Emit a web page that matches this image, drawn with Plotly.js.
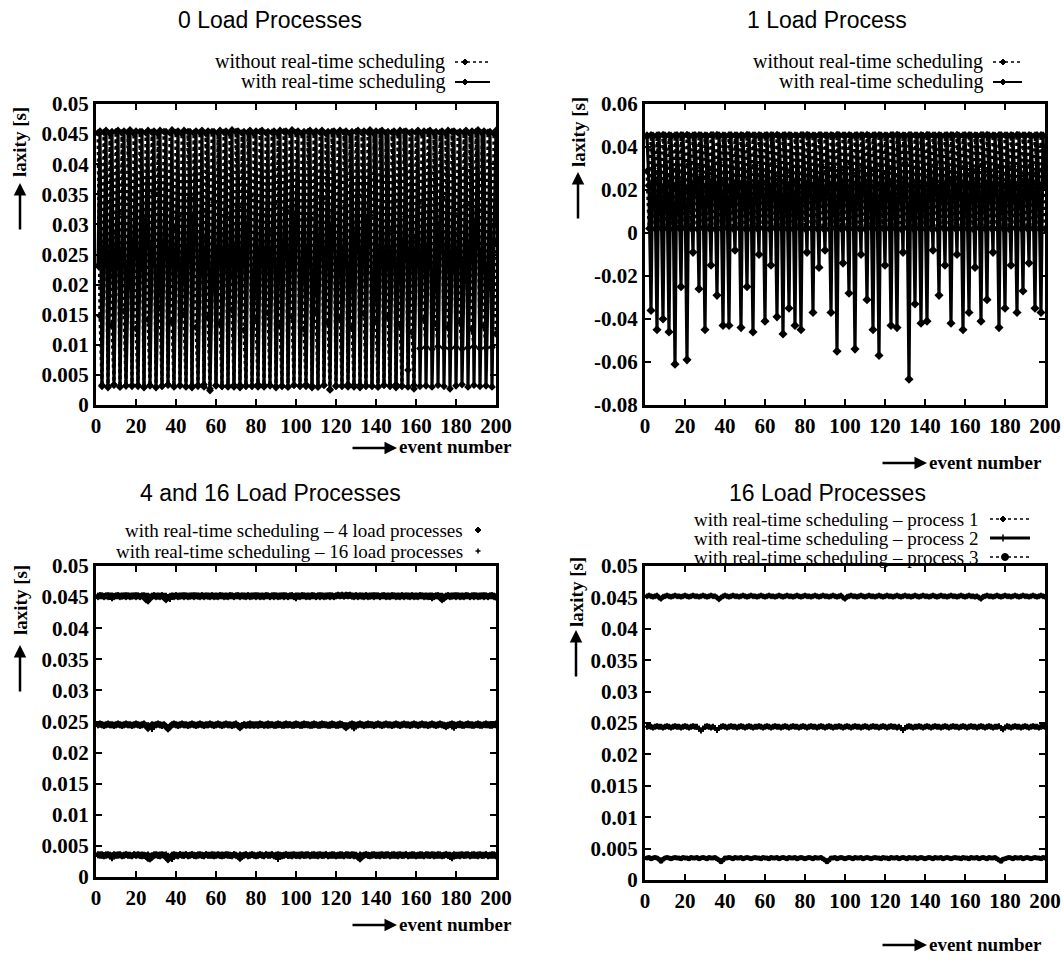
<!DOCTYPE html>
<html><head><meta charset="utf-8">
<script src="https://cdn.plot.ly/plotly-3.0.1.min.js"></script>
<style>html,body{margin:0;padding:0;background:#fff}#chart{width:1064px;height:965px}</style>
</head><body><div id="chart"></div>
<script>
// ---------------- DATA ----------------
const panelTitles = ["0 Load Processes", "1 Load Process", "4 and 16 Load Processes", "16 Load Processes"];
const legendTop = ["without real-time scheduling", "with real-time scheduling"];
const legendMix = ["with real-time scheduling \u2013 4 load processes", "with real-time scheduling \u2013 16 load processes"];
const legendProc = ["with real-time scheduling \u2013 process 1", "with real-time scheduling \u2013 process 2", "with real-time scheduling \u2013 process 3"];
const yAxisTitle = "laxity [s]";
const xAxisTitle = "event number";
const xTickVals = [0, 20, 40, 60, 80, 100, 120, 140, 160, 180, 200];
const xTickText = ["0", "20", "40", "60", "80", "100", "120", "140", "160", "180", "200"];
const yTickVals05 = [0, 0.005, 0.01, 0.015, 0.02, 0.025, 0.03, 0.035, 0.04, 0.045, 0.05];
const yTickText05 = ["0", "0.005", "0.01", "0.015", "0.02", "0.025", "0.03", "0.035", "0.04", "0.045", "0.05"];
const yTickVals1 = [-0.08, -0.06, -0.04, -0.02, 0, 0.02, 0.04, 0.06];
const yTickText1 = ["-0.08", "-0.06", "-0.04", "-0.02", "0", "0.02", "0.04", "0.06"];

// 0 load processes
const load0_without = [0.0452,0.0148,0.0031,0.0453,0.0336,0.0029,0.0451,0.0132,0.0033,0.0454,
0.0318,0.0030,0.0452,0.0156,0.0032,0.0453,0.0341,0.0031,0.0451,0.0127,
0.0033,0.0454,0.0309,0.0030,0.0452,0.0142,0.0032,0.0453,0.0352,0.0029,
0.0451,0.0161,0.0031,0.0454,0.0326,0.0033,0.0452,0.0138,0.0030,0.0453,
0.0314,0.0032,0.0451,0.0150,0.0031,0.0454,0.0344,0.0029,0.0452,0.0129,
0.0033,0.0453,0.0321,0.0030,0.0451,0.0145,0.0024,0.0454,0.0337,0.0032,
0.0452,0.0135,0.0031,0.0453,0.0312,0.0030,0.0451,0.0158,0.0033,0.0454,
0.0329,0.0029,0.0452,0.0124,0.0032,0.0453,0.0347,0.0031,0.0451,0.0141,
0.0030,0.0454,0.0316,0.0033,0.0452,0.0153,0.0032,0.0453,0.0334,0.0029,
0.0451,0.0131,0.0031,0.0454,0.0323,0.0030,0.0452,0.0147,0.0033,0.0453,
0.0339,0.0032,0.0451,0.0126,0.0031,0.0454,0.0311,0.0029,0.0452,0.0155,
0.0030,0.0453,0.0342,0.0033,0.0451,0.0137,0.0025,0.0454,0.0319,0.0032,
0.0452,0.0144,0.0031,0.0453,0.0331,0.0030,0.0451,0.0128,0.0033,0.0454,
0.0349,0.0029,0.0452,0.0152,0.0032,0.0453,0.0315,0.0031,0.0451,0.0139,
0.0030,0.0454,0.0327,0.0033,0.0452,0.0146,0.0032,0.0453,0.0338,0.0029,
0.0451,0.0133,0.0031,0.0454,0.0313,0.0058,0.0452,0.0121,0.0027,0.0453,
0.0335,0.0094,0.0451,0.0142,0.0096,0.0454,0.0322,0.0093,0.0452,0.0135,
0.0097,0.0453,0.0345,0.0095,0.0451,0.0129,0.0094,0.0454,0.0318,0.0096,
0.0452,0.0138,0.0093,0.0453,0.0332,0.0095,0.0451,0.0126,0.0097,0.0454,
0.0324,0.0094,0.0452,0.0131,0.0095,0.0453,0.0341,0.0096,0.0451,0.0118];
const load0_with = [0.0231,0.0455,0.0033,0.0262,0.0456,0.0031,0.0214,0.0454,0.0034,0.0287,
0.0456,0.0030,0.0243,0.0455,0.0032,0.0196,0.0457,0.0033,0.0271,0.0455,
0.0031,0.0228,0.0454,0.0029,0.0305,0.0456,0.0033,0.0252,0.0455,0.0030,
0.0183,0.0456,0.0032,0.0266,0.0454,0.0034,0.0239,0.0457,0.0031,0.0294,
0.0455,0.0033,0.0207,0.0456,0.0030,0.0258,0.0454,0.0032,0.0312,0.0455,
0.0031,0.0224,0.0456,0.0034,0.0275,0.0455,0.0027,0.0191,0.0454,0.0033,
0.0248,0.0456,0.0031,0.0283,0.0455,0.0032,0.0216,0.0457,0.0030,0.0264,
0.0455,0.0033,0.0236,0.0454,0.0031,0.0301,0.0456,0.0032,0.0178,0.0455,
0.0034,0.0255,0.0456,0.0030,0.0229,0.0454,0.0033,0.0289,0.0455,0.0031,
0.0202,0.0456,0.0032,0.0268,0.0455,0.0030,0.0244,0.0457,0.0033,0.0317,
0.0455,0.0031,0.0211,0.0454,0.0034,0.0259,0.0456,0.0032,0.0186,0.0455,
0.0030,0.0277,0.0456,0.0033,0.0233,0.0454,0.0026,0.0296,0.0455,0.0031,
0.0219,0.0456,0.0032,0.0262,0.0455,0.0034,0.0197,0.0454,0.0030,0.0285,
0.0456,0.0033,0.0241,0.0455,0.0031,0.0308,0.0457,0.0032,0.0174,0.0455,
0.0030,0.0253,0.0456,0.0033,0.0226,0.0454,0.0031,0.0291,0.0455,0.0034,
0.0205,0.0456,0.0032,0.0267,0.0455,0.0030,0.0238,0.0454,0.0033,0.0279,
0.0456,0.0031,0.0213,0.0455,0.0032,0.0261,0.0456,0.0030,0.0189,0.0454,
0.0033,0.0299,0.0455,0.0031,0.0247,0.0456,0.0027,0.0222,0.0455,0.0032,
0.0284,0.0454,0.0034,0.0208,0.0456,0.0030,0.0256,0.0455,0.0033,0.0302,
0.0457,0.0031,0.0235,0.0455,0.0032,0.0193,0.0454,0.0030,0.0272,0.0456];

// 1 load process
const load1_without = [0.0288,0.0021,0.0456,0.0301,0.0019,0.0455,0.0276,0.0022,0.0457,0.0312,0.0020,0.0456,
0.0265,0.0018,0.0455,0.0297,0.0023,0.0456,0.0283,0.0020,0.0457,0.0319,0.0021,0.0455,
0.0271,0.0019,0.0456,0.0305,0.0022,0.0455,0.0262,0.0020,0.0456,0.0293,0.0018,0.0457,
0.0327,0.0021,0.0455,0.0279,0.0023,0.0456,0.0308,0.0019,0.0455,0.0268,0.0022,0.0456,
0.0299,0.0020,0.0457,0.0285,0.0018,0.0455,0.0314,0.0021,0.0456,0.0273,0.0023,0.0455,
0.0291,0.0019,0.0456,0.0323,0.0022,0.0457,0.0266,0.0020,0.0455,0.0302,0.0021,0.0456,
0.0281,0.0018,0.0455,0.0310,0.0023,0.0456,0.0274,0.0019,0.0457,0.0296,0.0022,0.0455,
0.0263,0.0020,0.0456,0.0317,0.0021,0.0455,0.0287,0.0018,0.0456,0.0304,0.0023,0.0457,
0.0270,0.0019,0.0455,0.0294,0.0022,0.0456,0.0321,0.0020,0.0455,0.0278,0.0021,0.0456,
0.0306,0.0018,0.0457,0.0267,0.0023,0.0455,0.0289,0.0019,0.0456,0.0313,0.0022,0.0455,
0.0275,0.0020,0.0456,0.0298,0.0021,0.0457,0.0264,0.0018,0.0455,0.0325,0.0023,0.0456,
0.0284,0.0019,0.0455,0.0307,0.0022,0.0456,0.0272,0.0020,0.0457,0.0292,0.0021,0.0455,
0.0316,0.0018,0.0456,0.0269,0.0023,0.0455,0.0300,0.0019,0.0456,0.0282,0.0022,0.0457,
0.0261,0.0020,0.0455,0.0311,0.0021,0.0456,0.0277,0.0018,0.0455,0.0295,0.0023,0.0456,
0.0320,0.0019,0.0457,0.0286,0.0022,0.0455,0.0268,0.0020,0.0456,0.0303,0.0021,0.0455,
0.0273,0.0018,0.0456,0.0309,0.0023,0.0457,0.0290,0.0019,0.0455,0.0266,0.0022,0.0456,
0.0315,0.0020,0.0455,0.0280,0.0021,0.0456,0.0297,0.0019];
const load1_with = [0.0452,0.0221,-0.036,0.0451,0.0236,-0.045,0.0453,0.0214,-0.040,0.0452,0.0228,-0.046,
0.0451,0.0219,-0.061,0.0453,0.0233,-0.025,0.0452,0.0210,-0.059,0.0451,0.0225,-0.009,
0.0453,0.0238,-0.026,0.0452,0.0216,-0.045,0.0451,0.0229,-0.015,0.0453,0.0222,-0.029,
0.0452,0.0235,-0.043,0.0451,0.0213,-0.043,0.0453,0.0227,-0.008,0.0452,0.0220,-0.044,
0.0451,0.0231,-0.025,0.0453,0.0217,-0.046,0.0452,0.0226,-0.010,0.0451,0.0234,-0.041,
0.0453,0.0212,-0.015,0.0452,0.0224,-0.039,0.0451,0.0237,-0.047,0.0453,0.0218,-0.035,
0.0452,0.0230,-0.043,0.0451,0.0215,-0.045,0.0453,0.0227,-0.009,0.0452,0.0221,-0.037,
0.0451,0.0233,-0.016,0.0453,0.0211,-0.008,0.0452,0.0226,-0.037,0.0451,0.0219,-0.055,
0.0453,0.0236,-0.014,0.0452,0.0214,-0.028,0.0451,0.0229,-0.054,0.0453,0.0222,-0.010,
0.0452,0.0232,-0.031,0.0451,0.0216,-0.045,0.0453,0.0225,-0.057,0.0452,0.0219,-0.015,
0.0451,0.0235,-0.043,0.0453,0.0212,-0.044,0.0452,0.0228,-0.009,0.0451,0.0221,-0.068,
0.0453,0.0230,-0.033,0.0452,0.0217,-0.042,0.0451,0.0226,-0.041,0.0453,0.0234,-0.008,
0.0452,0.0213,-0.029,0.0451,0.0224,-0.015,0.0453,0.0237,-0.042,0.0452,0.0218,-0.010,
0.0451,0.0231,-0.045,0.0453,0.0215,-0.037,0.0452,0.0227,-0.016,0.0451,0.0220,-0.041,
0.0453,0.0233,-0.031,0.0452,0.0211,-0.009,0.0451,0.0226,-0.044,0.0453,0.0219,-0.035,
0.0452,0.0236,-0.015,0.0451,0.0214,-0.037,0.0453,0.0229,-0.027,0.0452,0.0222,-0.014,
0.0451,0.0232,-0.035,0.0453,0.0216,-0.037,0.0452,0.0225];

// 4 load processes (three deadline levels per event)
const load4_p1 = [0.0451,0.0452,0.0452,0.0451,0.0452,0.0451,0.0452,0.0452,0.0451,0.0452,
0.0452,0.0451,0.0452,0.0452,0.0451,0.0452,0.0451,0.0452,0.0452,0.0451,
0.0452,0.0451,0.0452,0.0450,0.0446,0.0444,0.0448,0.0451,0.0452,0.0451,
0.0452,0.0451,0.0452,0.0449,0.0446,0.0449,0.0451,0.0452,0.0451,0.0452,
0.0451,0.0452,0.0452,0.0451,0.0452,0.0451,0.0452,0.0452,0.0451,0.0452,
0.0452,0.0451,0.0452,0.0451,0.0452,0.0452,0.0451,0.0452,0.0451,0.0452,
0.0451,0.0452,0.0452,0.0451,0.0452,0.0451,0.0452,0.0452,0.0451,0.0452,
0.0452,0.0451,0.0452,0.0452,0.0451,0.0452,0.0451,0.0452,0.0452,0.0451,
0.0452,0.0451,0.0452,0.0451,0.0452,0.0452,0.0451,0.0452,0.0451,0.0452,
0.0451,0.0452,0.0452,0.0451,0.0452,0.0451,0.0452,0.0452,0.0451,0.0452,
0.0452,0.0451,0.0452,0.0452,0.0451,0.0452,0.0451,0.0452,0.0452,0.0451,
0.0452,0.0451,0.0452,0.0451,0.0452,0.0452,0.0451,0.0452,0.0451,0.0452,
0.0453,0.0452,0.0453,0.0452,0.0453,0.0452,0.0453,0.0452,0.0451,0.0452,
0.0451,0.0452,0.0452,0.0451,0.0452,0.0451,0.0452,0.0452,0.0451,0.0452,
0.0452,0.0451,0.0452,0.0452,0.0451,0.0452,0.0451,0.0452,0.0452,0.0451,
0.0452,0.0451,0.0452,0.0451,0.0452,0.0452,0.0451,0.0452,0.0451,0.0452,
0.0451,0.0452,0.0452,0.0451,0.0452,0.0451,0.0452,0.0452,0.0451,0.0452,
0.0452,0.0449,0.0446,0.0448,0.0451,0.0452,0.0451,0.0452,0.0452,0.0451,
0.0452,0.0451,0.0452,0.0451,0.0452,0.0452,0.0451,0.0452,0.0451,0.0452,
0.0451,0.0452,0.0452,0.0451,0.0452,0.0451,0.0452,0.0452,0.0451,0.0450];
const load4_p2 = [0.0245,0.0246,0.0245,0.0244,0.0245,0.0246,0.0245,0.0245,0.0244,0.0245,
0.0246,0.0245,0.0244,0.0245,0.0246,0.0245,0.0245,0.0244,0.0245,0.0246,
0.0245,0.0244,0.0245,0.0246,0.0243,0.0239,0.0242,0.0245,0.0244,0.0245,
0.0246,0.0245,0.0244,0.0245,0.0242,0.0238,0.0242,0.0245,0.0246,0.0245,
0.0244,0.0245,0.0246,0.0245,0.0245,0.0244,0.0245,0.0246,0.0245,0.0244,
0.0245,0.0246,0.0245,0.0244,0.0245,0.0245,0.0246,0.0245,0.0244,0.0245,
0.0246,0.0245,0.0244,0.0245,0.0246,0.0245,0.0245,0.0244,0.0245,0.0246,
0.0243,0.0240,0.0243,0.0245,0.0244,0.0245,0.0246,0.0245,0.0244,0.0245,
0.0245,0.0246,0.0245,0.0244,0.0245,0.0246,0.0245,0.0245,0.0244,0.0245,
0.0246,0.0245,0.0244,0.0245,0.0246,0.0245,0.0245,0.0244,0.0245,0.0246,
0.0245,0.0244,0.0245,0.0246,0.0245,0.0245,0.0244,0.0245,0.0246,0.0245,
0.0244,0.0245,0.0246,0.0245,0.0245,0.0244,0.0245,0.0246,0.0245,0.0244,
0.0245,0.0246,0.0245,0.0243,0.0240,0.0243,0.0245,0.0246,0.0245,0.0244,
0.0245,0.0246,0.0245,0.0244,0.0245,0.0246,0.0245,0.0245,0.0244,0.0245,
0.0246,0.0245,0.0244,0.0245,0.0246,0.0245,0.0245,0.0244,0.0245,0.0246,
0.0245,0.0244,0.0245,0.0246,0.0245,0.0245,0.0244,0.0245,0.0246,0.0245,
0.0244,0.0245,0.0246,0.0245,0.0245,0.0244,0.0245,0.0246,0.0245,0.0244,
0.0245,0.0246,0.0245,0.0244,0.0242,0.0244,0.0245,0.0246,0.0245,0.0244,
0.0245,0.0246,0.0245,0.0244,0.0245,0.0246,0.0245,0.0245,0.0244,0.0245,
0.0246,0.0245,0.0244,0.0245,0.0246,0.0245,0.0245,0.0244,0.0245,0.0246];
const load4_p3 = [0.0036,0.0035,0.0036,0.0034,0.0035,0.0036,0.0035,0.0034,0.0036,0.0035,
0.0035,0.0036,0.0034,0.0035,0.0036,0.0035,0.0035,0.0034,0.0036,0.0035,
0.0036,0.0035,0.0034,0.0035,0.0033,0.0030,0.0029,0.0032,0.0035,0.0036,
0.0035,0.0034,0.0036,0.0035,0.0032,0.0028,0.0031,0.0035,0.0036,0.0035,
0.0034,0.0036,0.0035,0.0035,0.0036,0.0034,0.0035,0.0036,0.0035,0.0034,
0.0035,0.0036,0.0035,0.0034,0.0036,0.0035,0.0035,0.0036,0.0034,0.0035,
0.0036,0.0035,0.0034,0.0035,0.0036,0.0035,0.0035,0.0034,0.0036,0.0035,
0.0033,0.0030,0.0033,0.0035,0.0036,0.0034,0.0035,0.0036,0.0035,0.0034,
0.0035,0.0036,0.0035,0.0034,0.0036,0.0035,0.0035,0.0036,0.0034,0.0035,
0.0036,0.0035,0.0034,0.0035,0.0036,0.0035,0.0035,0.0034,0.0036,0.0035,
0.0035,0.0034,0.0036,0.0035,0.0035,0.0036,0.0034,0.0035,0.0036,0.0035,
0.0034,0.0036,0.0035,0.0035,0.0036,0.0034,0.0035,0.0036,0.0035,0.0034,
0.0035,0.0036,0.0035,0.0034,0.0036,0.0035,0.0035,0.0036,0.0034,0.0035,
0.0032,0.0029,0.0033,0.0035,0.0036,0.0035,0.0034,0.0035,0.0036,0.0035,
0.0035,0.0034,0.0036,0.0035,0.0035,0.0036,0.0034,0.0035,0.0036,0.0035,
0.0034,0.0036,0.0035,0.0035,0.0036,0.0034,0.0035,0.0036,0.0035,0.0034,
0.0035,0.0036,0.0035,0.0034,0.0036,0.0035,0.0035,0.0036,0.0034,0.0035,
0.0036,0.0035,0.0034,0.0035,0.0036,0.0035,0.0035,0.0034,0.0036,0.0035,
0.0035,0.0034,0.0036,0.0035,0.0035,0.0036,0.0034,0.0035,0.0036,0.0035,
0.0034,0.0036,0.0035,0.0035,0.0036,0.0034,0.0035,0.0036,0.0035,0.0034];

// 16 load processes, processes 1..3
const load16_p1 = [0.0452,0.0453,0.0452,0.0451,0.0452,0.0453,0.0450,0.0448,0.0451,0.0452,
0.0453,0.0452,0.0451,0.0452,0.0453,0.0452,0.0452,0.0451,0.0452,0.0453,
0.0452,0.0451,0.0452,0.0453,0.0452,0.0452,0.0451,0.0452,0.0453,0.0452,
0.0451,0.0452,0.0453,0.0452,0.0452,0.0450,0.0447,0.0450,0.0452,0.0453,
0.0452,0.0451,0.0452,0.0453,0.0452,0.0452,0.0451,0.0452,0.0453,0.0452,
0.0451,0.0452,0.0453,0.0452,0.0452,0.0451,0.0452,0.0453,0.0452,0.0451,
0.0452,0.0453,0.0452,0.0452,0.0451,0.0452,0.0453,0.0452,0.0451,0.0452,
0.0453,0.0452,0.0452,0.0451,0.0452,0.0453,0.0452,0.0451,0.0452,0.0453,
0.0452,0.0452,0.0451,0.0452,0.0453,0.0452,0.0451,0.0452,0.0453,0.0452,
0.0452,0.0451,0.0452,0.0453,0.0452,0.0451,0.0452,0.0453,0.0450,0.0448,
0.0451,0.0452,0.0453,0.0452,0.0452,0.0451,0.0452,0.0453,0.0452,0.0451,
0.0452,0.0453,0.0452,0.0452,0.0451,0.0452,0.0453,0.0452,0.0451,0.0452,
0.0453,0.0452,0.0452,0.0451,0.0452,0.0453,0.0452,0.0451,0.0452,0.0453,
0.0452,0.0452,0.0451,0.0452,0.0453,0.0452,0.0451,0.0452,0.0453,0.0452,
0.0452,0.0451,0.0452,0.0453,0.0452,0.0451,0.0452,0.0453,0.0452,0.0452,
0.0451,0.0452,0.0453,0.0452,0.0452,0.0451,0.0452,0.0453,0.0452,0.0451,
0.0452,0.0453,0.0452,0.0452,0.0451,0.0452,0.0450,0.0448,0.0451,0.0452,
0.0453,0.0452,0.0452,0.0451,0.0452,0.0453,0.0452,0.0451,0.0452,0.0453,
0.0452,0.0452,0.0451,0.0452,0.0453,0.0452,0.0451,0.0452,0.0453,0.0452,
0.0452,0.0451,0.0452,0.0453,0.0452,0.0451,0.0452,0.0453,0.0452,0.0451];
const load16_p2 = [0.0244,0.0245,0.0244,0.0243,0.0244,0.0245,0.0244,0.0244,0.0243,0.0244,
0.0245,0.0244,0.0243,0.0244,0.0245,0.0244,0.0244,0.0243,0.0244,0.0245,
0.0244,0.0243,0.0244,0.0245,0.0244,0.0244,0.0241,0.0238,0.0241,0.0244,
0.0245,0.0244,0.0243,0.0244,0.0242,0.0239,0.0242,0.0244,0.0245,0.0244,
0.0243,0.0244,0.0245,0.0244,0.0244,0.0243,0.0244,0.0245,0.0244,0.0243,
0.0244,0.0245,0.0244,0.0243,0.0244,0.0244,0.0245,0.0244,0.0243,0.0244,
0.0245,0.0244,0.0243,0.0244,0.0245,0.0244,0.0244,0.0243,0.0244,0.0245,
0.0244,0.0243,0.0244,0.0245,0.0244,0.0244,0.0243,0.0244,0.0245,0.0244,
0.0243,0.0244,0.0245,0.0244,0.0244,0.0243,0.0244,0.0245,0.0244,0.0243,
0.0244,0.0245,0.0244,0.0243,0.0244,0.0244,0.0245,0.0244,0.0243,0.0244,
0.0245,0.0244,0.0243,0.0244,0.0245,0.0244,0.0244,0.0243,0.0244,0.0245,
0.0244,0.0243,0.0244,0.0245,0.0244,0.0244,0.0243,0.0244,0.0245,0.0244,
0.0243,0.0244,0.0245,0.0244,0.0244,0.0243,0.0244,0.0242,0.0239,0.0242,
0.0244,0.0245,0.0244,0.0243,0.0244,0.0244,0.0245,0.0244,0.0243,0.0244,
0.0245,0.0244,0.0243,0.0244,0.0245,0.0244,0.0244,0.0243,0.0244,0.0245,
0.0244,0.0243,0.0244,0.0245,0.0244,0.0244,0.0243,0.0244,0.0245,0.0244,
0.0243,0.0244,0.0245,0.0244,0.0244,0.0243,0.0244,0.0245,0.0244,0.0243,
0.0244,0.0245,0.0244,0.0243,0.0244,0.0244,0.0245,0.0242,0.0240,0.0243,
0.0245,0.0244,0.0243,0.0244,0.0245,0.0244,0.0244,0.0243,0.0244,0.0245,
0.0244,0.0243,0.0244,0.0245,0.0244,0.0244,0.0243,0.0244,0.0245,0.0244];
const load16_p3 = [0.0035,0.0036,0.0034,0.0035,0.0036,0.0035,0.0033,0.0030,0.0033,0.0035,
0.0036,0.0035,0.0034,0.0035,0.0036,0.0035,0.0035,0.0034,0.0036,0.0035,
0.0035,0.0034,0.0036,0.0035,0.0035,0.0036,0.0034,0.0035,0.0036,0.0035,
0.0034,0.0036,0.0035,0.0035,0.0036,0.0034,0.0032,0.0029,0.0032,0.0035,
0.0035,0.0036,0.0035,0.0034,0.0036,0.0035,0.0035,0.0036,0.0034,0.0035,
0.0036,0.0035,0.0034,0.0035,0.0036,0.0035,0.0035,0.0034,0.0036,0.0035,
0.0035,0.0034,0.0036,0.0035,0.0035,0.0036,0.0034,0.0035,0.0036,0.0035,
0.0034,0.0036,0.0035,0.0035,0.0036,0.0034,0.0035,0.0036,0.0035,0.0034,
0.0035,0.0036,0.0035,0.0034,0.0036,0.0035,0.0035,0.0036,0.0034,0.0032,
0.0029,0.0032,0.0035,0.0035,0.0036,0.0034,0.0035,0.0036,0.0035,0.0034,
0.0035,0.0036,0.0035,0.0034,0.0036,0.0035,0.0035,0.0036,0.0034,0.0035,
0.0036,0.0035,0.0034,0.0035,0.0036,0.0035,0.0035,0.0034,0.0036,0.0035,
0.0035,0.0034,0.0036,0.0035,0.0035,0.0036,0.0034,0.0035,0.0036,0.0035,
0.0034,0.0036,0.0035,0.0035,0.0036,0.0034,0.0035,0.0036,0.0035,0.0034,
0.0035,0.0036,0.0035,0.0034,0.0036,0.0035,0.0035,0.0036,0.0034,0.0035,
0.0036,0.0035,0.0034,0.0035,0.0036,0.0035,0.0035,0.0034,0.0036,0.0035,
0.0035,0.0034,0.0036,0.0035,0.0035,0.0036,0.0034,0.0035,0.0036,0.0035,
0.0034,0.0036,0.0035,0.0035,0.0036,0.0034,0.0032,0.0030,0.0033,0.0034,
0.0035,0.0036,0.0035,0.0034,0.0036,0.0035,0.0035,0.0036,0.0034,0.0035,
0.0036,0.0035,0.0034,0.0035,0.0036,0.0035,0.0035,0.0034,0.0036,0.0035];

// ---------------- LAYOUT HELPERS ----------------
const W = 1064, H = 965;
const px = x => x / W;
const py = y => 1 - y / H;
const SERIF = "Liberation Serif, Times New Roman, serif";
const SANS = "Liberation Sans, Arial, sans-serif";
const K = "#000";

const boxes = [
  {x0: 96,  x1: 496,  y0: 104, y1: 405},
  {x0: 645, x1: 1045, y0: 104, y1: 405},
  {x0: 96,  x1: 496,  y0: 566, y1: 877},
  {x0: 645, x1: 1045, y0: 566, y1: 880}
];
const TICKFONT = {family: SERIF, size: 21, color: K, weight: "bold"};

function xAxis(b, anchor) {
  return {domain: [px(b.x0), px(b.x1)], anchor, range: [0, 200], tickvals: xTickVals, ticktext: xTickText,
    ticks: "inside", ticklen: 6, tickwidth: 2, tickcolor: K, showline: true, linewidth: 3, linecolor: K,
    mirror: "ticks", showgrid: false, zeroline: false, fixedrange: true, tickfont: TICKFONT};
}
function yAxis(b, anchor, range, vals, text) {
  return {domain: [py(b.y1), py(b.y0)], anchor, range, tickvals: vals, ticktext: text,
    ticks: "inside", ticklen: 6, tickwidth: 2, tickcolor: K, showline: true, linewidth: 3, linecolor: K,
    mirror: "ticks", showgrid: false, zeroline: false, fixedrange: true, tickfont: TICKFONT};
}

function series(y, xa, ya, mode, dash, lw, sym, ms) {
  return {type: "scatter", y, x0: 1, dx: 1, xaxis: xa, yaxis: ya, mode, showlegend: false,
    line: {color: K, width: lw, dash}, marker: {symbol: sym, size: ms, color: K}, hoverinfo: "skip"};
}

const traces = [
  series(load0_without, "x", "y", "lines+markers", "dot", 3.2, "diamond", 6),
  series(load0_with, "x", "y", "lines+markers", "solid", 3.2, "diamond", 6),
  series(load1_without, "x2", "y2", "lines+markers", "dot", 3.2, "diamond", 6),
  series(load1_with, "x2", "y2", "lines+markers", "solid", 3.2, "diamond", 7),
  series(load4_p1, "x3", "y3", "markers", "solid", 1, "diamond", 6),
  series(load4_p2, "x3", "y3", "markers", "solid", 1, "diamond", 6),
  series(load4_p3, "x3", "y3", "markers", "solid", 1, "diamond", 6),
  series(load16_p1, "x3", "y3", "markers", "solid", 1, "cross", 5),
  series(load16_p2, "x3", "y3", "markers", "solid", 1, "cross", 5),
  series(load16_p3, "x3", "y3", "markers", "solid", 1, "cross", 5),
  series(load16_p1, "x4", "y4", "lines+markers", "dot", 2.5, "diamond", 5),
  series(load16_p2, "x4", "y4", "lines+markers", "solid", 3, "cross", 5),
  series(load16_p3, "x4", "y4", "lines+markers", "dot", 2.5, "circle", 5)
];

const annotations = [];
const shapes = [];
function txt(text, x, y, xanchor, size, opts) {
  annotations.push(Object.assign({text, xref: "paper", yref: "paper", x: px(x), y: py(y), xanchor, yanchor: "middle",
    showarrow: false, font: {family: SERIF, size, color: K}}, opts || {}));
}
function arrow(hx, hy, ax, ay) {
  annotations.push({text: "", xref: "paper", yref: "paper", x: px(hx), y: py(hy), ax, ay, axref: "pixel", ayref: "pixel",
    showarrow: true, arrowhead: 2, arrowsize: 1, arrowwidth: 2.5, arrowcolor: K});
}
function gLine(x0, x1, y, dash, w) {
  shapes.push({type: "line", xref: "paper", yref: "paper", x0: px(x0), x1: px(x1), y0: py(y), y1: py(y), line: {color: K, width: w, dash}});
}
function gDiamond(cx, cy, r) {
  shapes.push({type: "path", xref: "paper", yref: "paper", fillcolor: K, line: {color: K, width: 1},
    path: `M ${px(cx)},${py(cy - r)} L ${px(cx + r)},${py(cy)} L ${px(cx)},${py(cy + r)} L ${px(cx - r)},${py(cy)} Z`});
}
function gCircle(cx, cy, r) {
  shapes.push({type: "circle", xref: "paper", yref: "paper", fillcolor: K, line: {color: K, width: 1},
    x0: px(cx - r), x1: px(cx + r), y0: py(cy + r), y1: py(cy - r)});
}
function gPlus(cx, cy, r) {
  shapes.push({type: "line", xref: "paper", yref: "paper", x0: px(cx - r), x1: px(cx + r), y0: py(cy), y1: py(cy), line: {color: K, width: 1.5}});
  shapes.push({type: "line", xref: "paper", yref: "paper", x0: px(cx), x1: px(cx), y0: py(cy - r), y1: py(cy + r), line: {color: K, width: 1.5}});
}

// titles
const titleFont = {family: SANS, size: 23, color: K};
[[270, 20], [827, 20], [270, 493], [827, 493]].forEach((p, i) => {
  annotations.push({text: panelTitles[i], xref: "paper", yref: "paper", x: px(p[0]), y: py(p[1]), xanchor: "center", yanchor: "middle", showarrow: false, font: titleFont});
});

// legends
const LF = 19;
txt(legendTop[0], 447, 62, "right", 20); gLine(455, 490, 62, "dot", 1.5); gDiamond(465, 62, 3);
txt(legendTop[1], 447, 82, "right", 20); gLine(455, 490, 82, "solid", 2); gDiamond(465, 82, 3);
txt(legendTop[0], 985, 62, "right", 20); gLine(993, 1022, 62, "dot", 1.5); gDiamond(1003, 62, 3);
txt(legendTop[1], 985, 82, "right", 20); gLine(993, 1022, 82, "solid", 2); gDiamond(1003, 82, 3);
txt(legendMix[0], 465, 530, "right", LF); gDiamond(478, 530, 3);
txt(legendMix[1], 465, 551, "right", LF); gPlus(478, 551, 2.5);
txt(legendProc[0], 980, 519, "right", LF); gLine(990, 1030, 519, "dot", 1.5); gDiamond(1003, 519, 3);
txt(legendProc[1], 980, 538, "right", LF); gLine(990, 1030, 538, "solid", 3); gPlus(1003, 538, 3.5);
txt(legendProc[2], 980, 557, "right", LF); gLine(990, 1030, 557, "dot", 1.5); gCircle(1005, 557, 3.5);

// axis titles with arrows
const AF = 19;
const AXFONT = {family: SERIF, size: AF, color: K, weight: "bold"};
[[20, 142, 183], [578, 132, 172], [20, 600, 645], [576, 592, 630]].forEach(p => {
  txt(yAxisTitle, p[0], p[1], "center", AF, {textangle: -90, font: AXFONT});
  arrow(p[0], p[2], 0, 48);
});
[[514, 447], [1044, 462], [514, 924], [1044, 944]].forEach(p => {
  txt(xAxisTitle, p[0], p[1], "right", AF, {font: AXFONT});
  arrow(p[0] - 117, p[1] + 1, -46, 0);
});

const layout = {
  width: W, height: H, margin: {l: 0, r: 0, t: 0, b: 0}, paper_bgcolor: "#fff", plot_bgcolor: "#fff",
  showlegend: false,
  xaxis: xAxis(boxes[0], "y"), yaxis: yAxis(boxes[0], "x", [0, 0.05], yTickVals05, yTickText05),
  xaxis2: xAxis(boxes[1], "y2"), yaxis2: yAxis(boxes[1], "x2", [-0.08, 0.06], yTickVals1, yTickText1),
  xaxis3: xAxis(boxes[2], "y3"), yaxis3: yAxis(boxes[2], "x3", [0, 0.05], yTickVals05, yTickText05),
  xaxis4: xAxis(boxes[3], "y4"), yaxis4: yAxis(boxes[3], "x4", [0, 0.05], yTickVals05, yTickText05),
  annotations, shapes
};
Plotly.newPlot("chart", traces, layout, {staticPlot: true, displayModeBar: false});
</script></body></html>
